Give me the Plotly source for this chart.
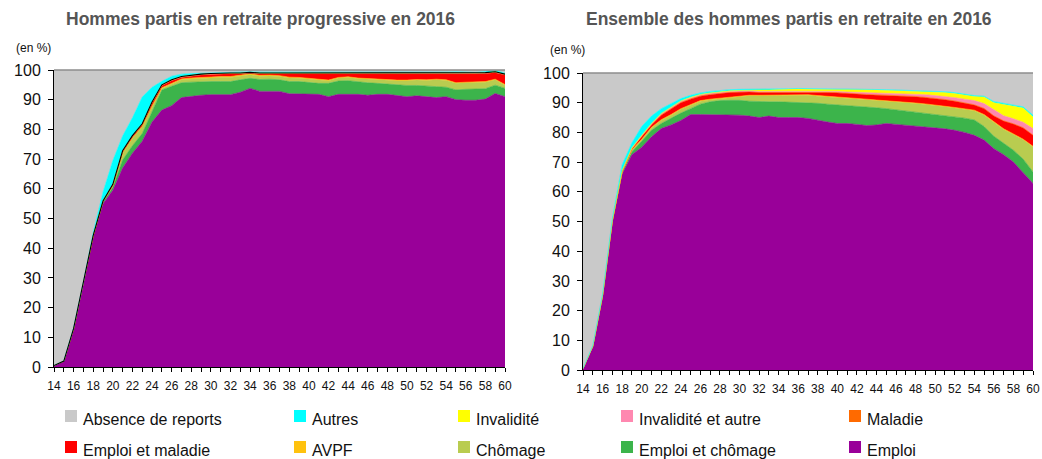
import plotly.graph_objects as go
import numpy as np

ages = list(range(14, 61))
x_labels = [str(a) if a % 2 == 0 else "" for a in ages]

title_left = "Hommes partis en retraite progressive en 2016"
title_right = "Ensemble des hommes partis en retraite en 2016"
unit_label = "(en %)"

series_names = ["Emploi", "Emploi et chômage", "Chômage", "AVPF", "Emploi et maladie",
                "Maladie", "Invalidité et autre", "Invalidité", "Autres"]
remainder_name = "Absence de reports"
colors = {
    "Absence de reports": "#c9c9c9",
    "Autres": "#00ffff",
    "Invalidité": "#ffff00",
    "Invalidité et autre": "#ff88b0",
    "Maladie": "#ff6a00",
    "Emploi et maladie": "#ff0000",
    "AVPF": "#ffc20e",
    "Chômage": "#b9cc50",
    "Emploi et chômage": "#3cb44b",
    "Emploi": "#990099",
}

# ---- Left chart: Hommes partis en retraite progressive (%, by age 14..60)
emploi_L = [0.5, 2, 13, 28, 44, 55, 59.5, 67, 72, 76,
            82.5, 86.5, 88, 90.7, 91.2, 91.5, 91.7, 91.7, 91.7, 92.5,
            93.8, 92.8, 92.8, 92.8, 92.0, 92.0, 92.0, 91.8, 91.0, 91.8,
            91.8, 91.8, 91.5, 91.8, 91.8, 91.5, 91.0, 91.3, 91.0, 90.7,
            91.0, 90.0, 89.8, 89.8, 90.2, 92.1, 91.0]
emploi_chomage_L = [0, 0, 0, 0.1, 0.2, 0.5, 1, 2.7, 2.5, 2.6,
                    3.5, 6.8, 6.5, 5, 4.7, 4.6, 4.4, 4.4, 4.4, 4.2,
                    3.4, 4, 4.1, 3.9, 4.1, 4.1, 3.8, 3.7, 4.5, 4.5,
                    4.6, 4.2, 4.2, 3.7, 3.5, 3.4, 3.8, 3.5, 3.5, 3.7,
                    3.2, 3.3, 3.7, 3.7, 3.5, 2.8, 2.8]
chomage_L = [0, 0, 0, 0.1, 0.1, 0.3, 0.5, 2.2, 2.5, 2.3,
             1.7, 0.5, 0.8, 1, 1.1, 1.1, 1.3, 1.4, 1.4, 1.3,
             1.2, 1.1, 1.1, 1.1, 1.2, 1.1, 1.1, 1.1, 0.9, 1.0,
             1.1, 1.1, 1.2, 1.2, 1.3, 1.5, 1.6, 1.8, 2.0, 2.3,
             2.3, 2.2, 2.2, 2.2, 2.2, 1.8, 1.1]
avpf_L = [0, 0, 0, 0, 0, 0, 0.1, 0.2, 0.2, 0.2,
          0.2, 0.2, 0.3, 0.3, 0.3, 0.3, 0.3, 0.3, 0.3, 0.3,
          0.3, 0.3, 0.3, 0.3, 0.3, 0.3, 0.3, 0.3, 0.2, 0.2,
          0.2, 0.2, 0.2, 0.2, 0.2, 0.2, 0.2, 0.2, 0.2, 0.2,
          0.2, 0.2, 0.2, 0.2, 0.2, 0.2, 0.2]
emploi_maladie_L = [0, 0, 0, 0, 0, 0.1, 0.1, 0.4, 0.4, 0.5,
                    1.0, 0.7, 0.8, 0.5, 0.7, 0.8, 0.8, 0.9, 0.9, 0.4,
                    0.2, 0.5, 0.5, 0.6, 1.1, 1.2, 1.5, 1.8, 2.1, 1.2,
                    1.0, 1.4, 1.6, 1.8, 1.9, 2.1, 2.1, 1.7, 1.8, 1.8,
                    2.0, 3.0, 2.8, 2.8, 2.7, 2.2, 3.2]
maladie_L = [0, 0, 0, 0, 0, 0, 0.1, 0.1, 0.1, 0.1,
             0.1, 0.1, 0.1, 0.1, 0.1, 0.1, 0.1, 0.1, 0.1, 0.1,
             0.1, 0.1, 0.1, 0.1, 0.1, 0.1, 0.1, 0.1, 0.1, 0.1,
             0.1, 0.1, 0.1, 0.1, 0.1, 0.1, 0.1, 0.1, 0.1, 0.1,
             0.1, 0.1, 0.1, 0.1, 0.1, 0.1, 0.1]
invalidite_autre_L = [0, 0, 0, 0, 0, 0, 0.1, 0.1, 0.1, 0.1,
                      0.1, 0.1, 0.1, 0.1, 0.1, 0.1, 0.1, 0.1, 0.1, 0.1,
                      0.1, 0.1, 0.1, 0.1, 0.1, 0.1, 0.1, 0.1, 0.1, 0.1,
                      0.1, 0.1, 0.1, 0.1, 0.1, 0.1, 0.1, 0.1, 0.1, 0.1,
                      0.1, 0.1, 0.1, 0.1, 0.1, 0.1, 0.1]
invalidite_L = [0, 0, 0, 0, 0, 0, 0.1, 0.1, 0.1, 0.1,
                0.1, 0.1, 0.1, 0.1, 0.1, 0.1, 0.1, 0.1, 0.1, 0.1,
                0.1, 0.1, 0.1, 0.1, 0.1, 0.1, 0.1, 0.1, 0.1, 0.1,
                0.1, 0.1, 0.1, 0.1, 0.1, 0.1, 0.1, 0.4, 0.4, 0.1,
                0.1, 0.1, 0.1, 0.1, 0.1, 0.1, 0.1]
autres_L = [0, 0, 0.2, 0.3, 1, 3, 8, 5, 6, 9,
            5, 1.2, 1.2, 0.8, 0.5, 0.3, 0.2, 0.2, 0.2, 0.2,
            0.2, 0.3, 0.2, 0.2, 0.3, 0.2, 0.2, 0.1, 0.1, 0.1,
            0.1, 0.1, 0.1, 0.1, 0.2, 0.1, 0.1, 0.1, 0.1, 0.2,
            0.3, 0.4, 0.4, 0.2, 0.4, 0.6, 0.3]

# ---- Right chart: Ensemble des hommes partis en retraite (%, by age 14..60)
emploi_R = [0.5, 8, 25, 50, 66, 72.5, 75, 78.5, 81.3, 82.5,
            84, 86, 86, 86, 86, 86, 85.8, 85.5, 85, 85.5,
            85, 85, 85, 84.7, 84, 83.5, 83, 83, 82.7, 82.3,
            82.5, 83, 82.7, 82.4, 82.2, 82, 81.7, 81.2, 80.7, 80,
            79, 77.4, 74.5, 72.5, 70, 66.5, 62.8]
emploi_chomage_R = [0, 0, 0.1, 0.2, 0.5, 1, 2, 2.2, 1.7, 2.3,
                    2.5, 2, 3.5, 4.3, 4.7, 4.8, 5, 5, 5.3, 4.8,
                    5.3, 5.2, 5.1, 5.3, 5.8, 6, 6.3, 6.1, 6.1, 6.2,
                    5.8, 5, 4.9, 4.9, 4.8, 4.6, 4.5, 4.5, 4.6, 4.8,
                    5.2, 4.6, 4.2, 4, 4, 4.5, 3.9]
chomage_R = [0, 0, 0, 0.1, 0.2, 0.5, 0.5, 0.8, 1.1, 1,
             1.3, 1.2, 1, 0.7, 0.6, 0.7, 1, 1.8, 2, 2,
             2.2, 2.3, 2.4, 2.5, 2.4, 2.5, 2.4, 2.3, 2.4, 2.5,
             2.4, 2.5, 2.6, 2.7, 2.7, 2.8, 2.9, 2.9, 2.9, 3,
             3.1, 3.8, 4.6, 4.5, 5.3, 6.5, 8.4]
avpf_R = [0, 0, 0, 0, 0.1, 0.2, 0.2, 0.2, 0.2, 0.2,
          0.2, 0.2, 0.2, 0.2, 0.2, 0.2, 0.2, 0.2, 0.2, 0.2,
          0.2, 0.2, 0.2, 0.2, 0.2, 0.2, 0.2, 0.2, 0.2, 0.2,
          0.2, 0.2, 0.2, 0.2, 0.2, 0.2, 0.2, 0.2, 0.2, 0.2,
          0.2, 0.2, 0.2, 0.2, 0.2, 0.2, 0.2]
emploi_maladie_R = [0, 0, 0, 0, 0.2, 0.3, 0.8, 0.8, 1.5, 2,
                    2, 1.8, 1.5, 1.5, 1.6, 1.7, 1.5, 1.1, 0.9, 0.9,
                    0.9, 0.9, 0.9, 0.9, 1.1, 1.2, 1.4, 1.4, 1.5, 1.5,
                    1.7, 1.8, 1.9, 2, 2.1, 2.1, 2.1, 2.2, 2.1, 1.8,
                    1.7, 2, 2, 2.6, 3.3, 3.8, 3.7]
maladie_R = [0, 0, 0, 0, 0, 0, 0.1, 0.1, 0.1, 0.1,
             0.1, 0.1, 0.1, 0.1, 0.1, 0.1, 0.1, 0.1, 0.1, 0.1,
             0.1, 0.1, 0.1, 0.1, 0.1, 0.1, 0.1, 0.1, 0.1, 0.1,
             0.1, 0.1, 0.1, 0.1, 0.1, 0.1, 0.1, 0.1, 0.1, 0.1,
             0.1, 0.1, 0.1, 0.1, 0.1, 0.1, 0.1]
invalidite_autre_R = [0, 0, 0, 0, 0.1, 0.2, 0.3, 0.3, 0.4, 0.4,
                      0.4, 0.4, 0.4, 0.4, 0.4, 0.3, 0.3, 0.3, 0.3, 0.3,
                      0.3, 0.3, 0.3, 0.3, 0.3, 0.4, 0.4, 0.5, 0.5, 0.6,
                      0.6, 0.6, 0.6, 0.7, 0.8, 0.9, 0.9, 1.0, 1.1, 1.3,
                      1.4, 1.6, 1.9, 1.7, 1.7, 1.8, 2.2]
invalidite_R = [0, 0, 0, 0, 0, 0.1, 0.1, 0.1, 0.1, 0.1,
                0.1, 0.1, 0.1, 0.1, 0.1, 0.2, 0.2, 0.3, 0.5, 0.5,
                0.5, 0.6, 0.6, 0.6, 0.6, 0.6, 0.7, 0.8, 0.9, 1.0,
                1.0, 1.0, 1.0, 1.0, 1.0, 1.1, 1.2, 1.3, 1.4, 1.3,
                1.4, 2.2, 2.5, 3.8, 4.3, 4.8, 3.9]
autres_R = [0, 0.2, 0.5, 0.7, 2, 1.7, 3, 2.5, 1.6, 1,
            0.8, 0.7, 0.5, 0.5, 0.5, 0.4, 0.4, 0.2, 0.2, 0.2,
            0.1, 0.1, 0.2, 0.1, 0.1, 0.1, 0.1, 0.2, 0.2, 0.2,
            0.2, 0.2, 0.3, 0.2, 0.3, 0.3, 0.3, 0.3, 0.3, 0.3,
            0.3, 0.3, 0.4, 0.4, 0.4, 0.4, 0.6]

left_series = [emploi_L, emploi_chomage_L, chomage_L, avpf_L, emploi_maladie_L,
               maladie_L, invalidite_autre_L, invalidite_L, autres_L]
right_series = [emploi_R, emploi_chomage_R, chomage_R, avpf_R, emploi_maladie_R,
                maladie_R, invalidite_autre_R, invalidite_R, autres_R]

legend_rows = [
    ["Absence de reports", "Autres", "Invalidité", "Invalidité et autre", "Maladie"],
    ["Emploi et maladie", "AVPF", "Chômage", "Emploi et chômage", "Emploi"],
]

W, H = 1042, 459

def px(xp):
    return xp / W
def py(yp):
    return 1 - yp / H

fig = go.Figure()

def add_stack(series, xa, ya, group, outline=False):
    for name, vals in zip(series_names, series):
        fig.add_trace(go.Scatter(
            x=ages, y=vals, name=name, stackgroup=group, mode="lines",
            line=dict(width=0.6, color=colors[name]), fillcolor=colors[name],
            xaxis=xa, yaxis=ya, showlegend=False))
    total = np.sum(np.array(series), axis=0)
    remainder = np.clip(100 - total, 0, None)
    fig.add_trace(go.Scatter(
        x=ages, y=remainder, name=remainder_name, stackgroup=group, mode="lines",
        line=dict(width=0.6, color=colors[remainder_name]),
        fillcolor=colors[remainder_name], xaxis=xa, yaxis=ya, showlegend=False))
    if outline:
        upto_inv = np.sum(np.array(series[:8]), axis=0)
        fig.add_trace(go.Scatter(
            x=ages, y=upto_inv, mode="lines", line=dict(width=1.1, color="black"),
            xaxis=xa, yaxis=ya, showlegend=False, hoverinfo="skip"))

add_stack(left_series, "x", "y", "left", outline=True)
add_stack(right_series, "x2", "y2", "right")

tick_font = dict(family="Liberation Sans, Arial, sans-serif", size=16, color="#111")
xtick_font = dict(family="Liberation Sans, Arial, sans-serif", size=12, color="#111")

def xaxis_cfg(dom, anchor):
    return dict(domain=dom, anchor=anchor, range=[14, 60], tickmode="array",
                tickvals=ages, ticktext=x_labels, ticks="outside", ticklen=4,
                tickcolor="black", linecolor="black", linewidth=1, showline=True,
                showgrid=False, zeroline=False, tickfont=xtick_font,
                ticklabelstandoff=4, ticklabeloverflow="allow",
                fixedrange=True, automargin=False)

def yaxis_cfg(dom, anchor):
    return dict(domain=dom, anchor=anchor, range=[0, 100], dtick=10, ticks="outside",
                ticklen=5, tickcolor="black", linecolor="black", linewidth=1,
                showline=True, showgrid=False, zeroline=False, tickfont=tick_font,
                ticklabelstandoff=4, fixedrange=True, automargin=False)

fig.update_layout(
    width=W, height=H, margin=dict(l=0, r=0, t=0, b=0, pad=0, autoexpand=False),
    paper_bgcolor="white", plot_bgcolor="white", showlegend=False,
    xaxis=xaxis_cfg([px(54), px(505)], "y"),
    yaxis=yaxis_cfg([py(367), py(70)], "x"),
    xaxis2=xaxis_cfg([px(583), px(1033)], "y2"),
    yaxis2=yaxis_cfg([py(370), py(73)], "x2"),
)

# frame top lines
for xr, yr in (("x domain", "y domain"), ("x2 domain", "y2 domain")):
    fig.add_shape(type="line", xref=xr, yref=yr, x0=0, x1=1, y0=1, y1=1,
                  line=dict(color="#8c8c8c", width=1.5))

title_font = dict(family="Liberation Sans, Arial, sans-serif",
                  size=17.5, color="#555555", weight="bold")
fig.add_annotation(text=title_left, x=px(260), y=py(19), xref="paper", yref="paper",
                   showarrow=False, font=title_font, xanchor="center", yanchor="middle")
fig.add_annotation(text=title_right, x=px(789), y=py(19), xref="paper", yref="paper",
                   showarrow=False, font=title_font, xanchor="center", yanchor="middle")
small_font = dict(family="Liberation Sans, Arial, sans-serif", size=12, color="#111")
fig.add_annotation(text=unit_label, x=px(14), y=py(48), xref="paper", yref="paper",
                   showarrow=False, font=small_font, xanchor="left", yanchor="middle")
fig.add_annotation(text=unit_label, x=px(548), y=py(50), xref="paper", yref="paper",
                   showarrow=False, font=small_font, xanchor="left", yanchor="middle")

# legend (two rows x five columns)
col_x = [65, 294, 458, 621, 849]
row_y = [410, 441]
sq = 12
leg_font = dict(family="Liberation Sans, Arial, sans-serif", size=16, color="#111")
for r, row in enumerate(legend_rows):
    for c, name in enumerate(row):
        x0 = col_x[c]
        y0 = row_y[r]
        fig.add_shape(type="rect", xref="paper", yref="paper",
                      x0=px(x0), x1=px(x0 + sq), y0=py(y0 + sq), y1=py(y0),
                      fillcolor=colors[name], line=dict(width=0))
        fig.add_annotation(text=name, x=px(x0 + sq + 4), y=py(y0 + 9), xref="paper",
                           yref="paper", showarrow=False, font=leg_font,
                           xanchor="left", yanchor="middle")

# remove the page's default body margin so the figure fills the window exactly
page_js = "document.body.style.margin='0';document.body.style.overflow='hidden';"

fig.write_html("out.html", post_script=page_js,
               config={"displayModeBar": False, "staticPlot": False})
